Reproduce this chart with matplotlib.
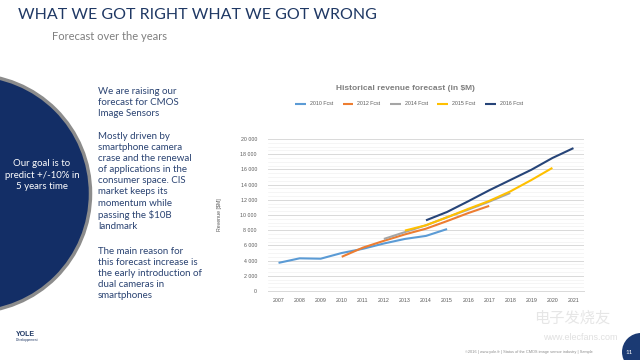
import matplotlib
matplotlib.use("Agg")
import matplotlib.pyplot as plt
from matplotlib.patches import Circle
from matplotlib.ticker import MultipleLocator, FuncFormatter

years = [2007, 2008, 2009, 2010, 2011, 2012, 2013, 2014, 2015, 2016, 2017, 2018, 2019, 2020, 2021]

fcst_2010_years = [2007, 2008, 2009, 2010, 2011, 2012, 2013, 2014, 2015]
fcst_2010 = [3700, 4300, 4250, 5000, 5550, 6250, 6850, 7250, 8150]

fcst_2012_years = [2010, 2011, 2012, 2013, 2014, 2015, 2016, 2017]
fcst_2012 = [4500, 5700, 6600, 7450, 8200, 9200, 10250, 11200]

fcst_2014_years = [2012, 2013, 2014, 2015, 2016, 2017, 2018]
fcst_2014 = [6850, 7750, 8650, 9700, 10700, 11750, 12900]

fcst_2015_years = [2013, 2014, 2015, 2016, 2017, 2018, 2019, 2020]
fcst_2015 = [7950, 8650, 9700, 10800, 11850, 13100, 14600, 16200]

fcst_2016_years = [2014, 2015, 2016, 2017, 2018, 2019, 2020, 2021]
fcst_2016 = [9300, 10400, 11800, 13250, 14600, 15950, 17500, 18800]

series = [
    ("2010 Fcst", fcst_2010_years, fcst_2010, "#5B9BD5"),
    ("2012 Fcst", fcst_2012_years, fcst_2012, "#ED7D31"),
    ("2014 Fcst", fcst_2014_years, fcst_2014, "#A5A5A5"),
    ("2015 Fcst", fcst_2015_years, fcst_2015, "#FFC000"),
    ("2016 Fcst", fcst_2016_years, fcst_2016, "#264478"),
]

slide_font = ["Lato", "DejaVu Sans"]
chart_font = ["Liberation Sans", "DejaVu Sans"]

fig = plt.figure(figsize=(6.4, 3.6), dpi=100)
fig.patch.set_facecolor("white")

# background canvas in pixel coordinates
bg = fig.add_axes([0, 0, 1, 1], zorder=0)
bg.set_xlim(0, 640)
bg.set_ylim(360, 0)
bg.axis("off")

bg.add_patch(Circle((-28, 193.5), 118.5, facecolor="#132E66", edgecolor="#8C8C8C", lw=2.5))

bg.text(18, 15, "WHAT WE GOT RIGHT WHAT WE GOT WRONG", family=slide_font, fontsize=11.5,
        color="#1F3864", va="center", ha="left")
bg.text(52, 37, "Forecast over the years", family=slide_font, fontsize=8,
        color="#7F7F7F", va="center", ha="left")

bg.text(42, 175, "Our goal is to\npredict +/-10% in\n5 years time", family=slide_font,
        fontsize=6.9, color="white", ha="center", va="center", linespacing=1.3)

body = [
    (87, "We are raising our\nforecast for CMOS\nImage Sensors"),
    (132, "Mostly driven by\nsmartphone camera\ncrase and the renewal\nof applications in the\nconsumer space. CIS\nmarket keeps its\nmomentum while\npassing the $10B\nlandmark"),
    (247, "The main reason for\nthis forecast increase is\nthe early introduction of\ndual cameras in\nsmartphones"),
]
for y, txt in body:
    bg.text(98, y, txt, family=slide_font, fontsize=7.0, color="#2A4372",
            ha="left", va="top", linespacing=1.3)

bg.text(405, 89, "Historical revenue forecast (in $M)", family=chart_font, fontsize=6,
        fontweight="bold", color="#7F7F7F", ha="center", va="center")

# footer
bg.text(16, 335, "YOLE", family=chart_font, fontsize=5, fontweight="bold", color="#1F3864",
        ha="left", va="center")
bg.text(16, 340.5, "Développement", family=chart_font, fontsize=2.3, color="#1F3864",
        ha="left", va="center")
bg.text(572, 318, "电子发烧友", family=["Noto Sans CJK SC", "DejaVu Sans"], fontsize=11,
        color="#E6E6E6", ha="center", va="center")
bg.text(580, 338, "www.elecfans.com", family=chart_font, fontsize=6.5,
        color="#E0E0E0", ha="center", va="center", zorder=1)
bg.text(593, 352, "©2016 | www.yole.fr | Status of the CMOS image sensor industry | Sample",
        family=chart_font, fontsize=2.8, color="#8C8C8C", ha="right", va="center")
bg.add_patch(Circle((641, 352), 19, facecolor="#1B3A73", edgecolor="none", zorder=2))
bg.text(629, 352, "11", family=slide_font, fontsize=4.5, color="white", ha="center",
        va="center", zorder=3)

# chart
ax = fig.add_axes([268 / 640, 1 - 291 / 360, 316 / 640, 152 / 360], zorder=1)
ax.patch.set_alpha(0)
for label, xs, ys, c in series:
    ax.plot([years.index(x) for x in xs], ys, color=c, lw=1.5, label=label,
            solid_capstyle="butt")

ax.set_xlim(-0.5, len(years) - 0.5)
ax.set_ylim(0, 20000)
ax.set_xticks(range(len(years)))
ax.set_xticklabels([str(y) for y in years])
ax.yaxis.set_major_locator(MultipleLocator(2000))
ax.yaxis.set_minor_locator(MultipleLocator(500))
ax.yaxis.set_major_formatter(FuncFormatter(lambda v, p: f"{int(v):,}".replace(",", " ")))
ax.grid(axis="y", which="major", color="#D9D9D9", lw=0.7)
ax.grid(axis="y", which="minor", color="#F2F2F2", lw=0.5)
ax.set_axisbelow(True)
for s in ["top", "right", "left"]:
    ax.spines[s].set_visible(False)
ax.spines["bottom"].set_color("#D9D9D9")
ax.spines["bottom"].set_linewidth(0.7)
ax.tick_params(axis="both", which="both", length=0, labelsize=3.8, labelcolor="#595959")
ax.tick_params(axis="y", pad=8)
ax.tick_params(axis="x", pad=5)
for t in ax.get_xticklabels() + ax.get_yticklabels():
    t.set_family(chart_font)
ax.set_ylabel("Revenue [$M]", family=chart_font, fontsize=3.8, color="#595959")
ax.yaxis.set_label_coords(-0.146, 0.5)

leg = fig.legend(loc="center", bbox_to_anchor=(409 / 640, 1 - 104 / 360), ncol=5,
                 frameon=False, prop={"family": chart_font, "size": 3.8},
                 handlelength=2.0, columnspacing=1.8, handletextpad=0.8)
for t in leg.get_texts():
    t.set_color("#595959")

fig.savefig("out.png", dpi=100)
